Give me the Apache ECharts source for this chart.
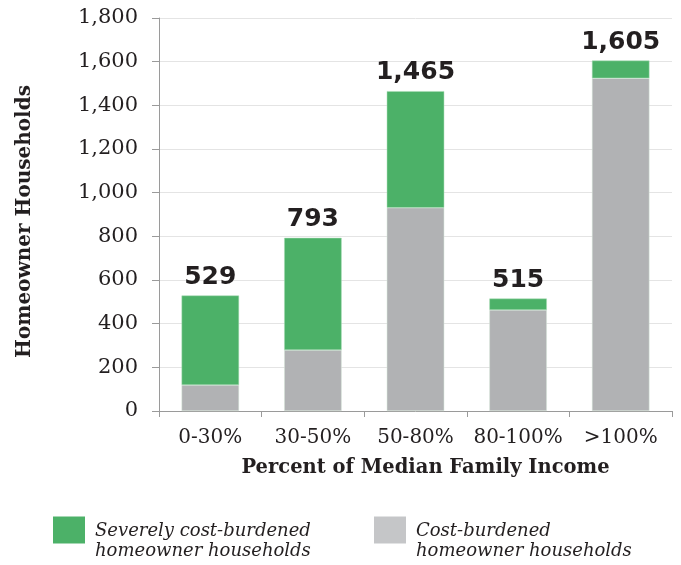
<!DOCTYPE html>
<html>
<head>
<meta charset="utf-8">
<script src="https://cdn.jsdelivr.net/npm/echarts@6/dist/echarts.min.js"></script>
<style>html,body{margin:0;padding:0;background:#fff}#c{width:681px;height:565px}</style>
</head>
<body>
<div id="c"></div>
<script>
const categories = ['0-30%', '30-50%', '50-80%', '80-100%', '>100%'];
const costBurdened = [119, 279, 931, 463, 1524];
const severelyBurdened = [410, 514, 534, 52, 81];
const totals = [529, 793, 1465, 515, 1605];
const yTicks = [0, 200, 400, 600, 800, 1000, 1200, 1400, 1600, 1800];

const serif = '"DejaVu Serif", "Liberation Serif", serif';
const legendText = {
  fontFamily: serif, fontStyle: 'italic', fontSize: 18, color: '#231f20',
  rich: {
    s: { height: 22, lineHeight: 22, fontSize: 8 },
    a: { fontFamily: serif, fontStyle: 'italic', fontSize: 18, color: '#231f20', lineHeight: 20, padding: [0, 0, 0, 5] }
  }
};
const legendFmt = name => '{s| }\n' + name.split('\n').map(l => '{a|' + l + '}').join('\n');
const chart = echarts.init(document.getElementById('c'));
chart.setOption({
  animation: false,
  grid: { left: 159, right: 9, top: 18, bottom: 154 },
  legend: [
    { data: [{ name: 'Severely cost-burdened\nhomeowner households', itemStyle: { color: '#4cb168', borderWidth: 0 } }],
      left: 53, top: 499, itemWidth: 32, itemHeight: 27, padding: 0,
      textStyle: legendText, formatter: legendFmt, icon: 'rect' },
    { data: [{ name: 'Cost-burdened\nhomeowner households', itemStyle: { color: '#c5c6c8', borderWidth: 0 } }],
      left: 374, top: 499, itemWidth: 32, itemHeight: 27, padding: 0,
      textStyle: legendText, formatter: legendFmt, icon: 'rect' }
  ],
  xAxis: {
    type: 'category', data: categories,
    name: 'Percent of Median Family Income', nameLocation: 'middle', nameGap: 47,
    nameTextStyle: { fontFamily: serif, fontWeight: 'bold', fontSize: 19.5, color: '#231f20', padding: [0, 0, 0, 20] },
    axisLine: { lineStyle: { color: '#9a9a9a', width: 1 } },
    axisTick: { show: true, length: 6, lineStyle: { color: '#9a9a9a' } },
    axisLabel: { interval: 0, fontFamily: serif, fontSize: 20, color: '#231f20', margin: 17 }
  },
  yAxis: {
    type: 'value', min: 0, max: 1800, interval: 200,
    name: 'Homeowner Households', nameLocation: 'middle', nameGap: 124,
    nameTextStyle: { fontFamily: serif, fontWeight: 'bold', fontSize: 20, color: '#231f20', padding: [0, 14, 0, 0] },
    axisLine: { show: true, lineStyle: { color: '#9a9a9a', width: 1 } },
    axisTick: { show: true, length: 7, lineStyle: { color: '#9a9a9a' } },
    axisLabel: { fontFamily: serif, fontSize: 21, color: '#231f20', margin: 21,
      formatter: v => yTicks.includes(v) ? v.toLocaleString('en-US') : '' },
    splitLine: { lineStyle: { color: '#e4e4e4', width: 1 } }
  },
  series: [
    { name: 'Cost-burdened\nhomeowner households', type: 'bar', stack: 'a', data: costBurdened, barWidth: '56%',
      itemStyle: { color: '#b1b2b4', borderColor: '#d6e9da', borderWidth: 0.5 } },
    { name: 'Severely cost-burdened\nhomeowner households', type: 'bar', stack: 'a', data: severelyBurdened, barWidth: '56%',
      itemStyle: { color: '#4cb168', borderColor: '#a8dcb4', borderWidth: 0.5 },
      label: { show: true, position: 'top', distance: 6, formatter: p => totals[p.dataIndex].toLocaleString('en-US'),
        fontFamily: '"DejaVu Sans", sans-serif', fontWeight: 'bold', fontSize: 25, color: '#231f20' } }
  ]
});
</script>
</body>
</html>
